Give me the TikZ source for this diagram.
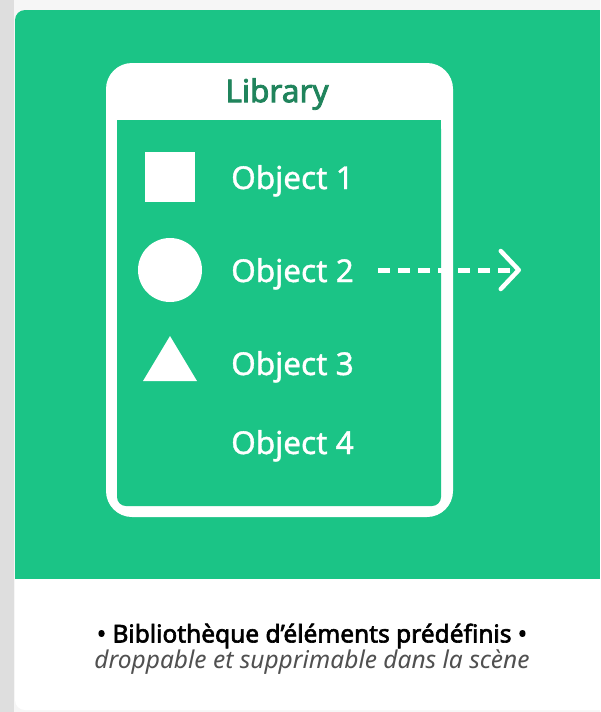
\documentclass[tikz,border=0pt]{standalone}
\usepackage{fontspec}
\setmainfont{Noto Sans}
\newfontfamily\medfont[FakeBold=1.2]{Noto Sans}
\newfontfamily\semifont[FakeBold=2.5]{Noto Sans}
\usetikzlibrary{arrows.meta}
\definecolor{libgreen}{RGB}{27,196,134}
\definecolor{darkgreen}{RGB}{32,132,92}
\definecolor{capgray}{RGB}{80,80,80}
\definecolor{edgegray}{RGB}{222,222,222}
\definecolor{topgray}{RGB}{246,246,246}

\begin{document}
\begin{tikzpicture}[x=1pt, y=-1pt,
    objlabel/.style={anchor=base west, inner sep=0pt, text=white,
      font=\medfont\fontsize{31.5}{31.5}\selectfont},
    icon/.style={fill=white, draw=none, inner sep=0pt},
    dragline/.style={white, line width=5, dash pattern=on 12 off 8,
      -{Straight Barb[length=18, width=38, line width=4.5, round]}}]
\useasboundingbox (0,0) rectangle (600,712);
% page and card
\fill[topgray] (0,0) rectangle (600,712);
\fill[edgegray] (0,0) rectangle (14,712);
\fill[white, rounded corners=10] (15,10) rectangle (620,710);
\begin{scope}
  \clip[rounded corners=10] (15,10) rectangle (620,710);
  \fill[libgreen] (15,10) rectangle (600,579);
\end{scope}
% library frame
\fill[white, rounded corners=26] (106,63) rectangle (453,517);
\fill[libgreen, rounded corners=9] (117,120) rectangle (441,506);
\fill[libgreen] (117,120) rectangle (441,140);
\node[text=darkgreen, font=\semifont\fontsize{31.5}{31.5}\selectfont] (title) at (277,94) {Library};
% icons
\node[icon, minimum size=50] (square) at (170,177) {};
\node[icon, circle, minimum size=64] (disc) at (170,270) {};
\fill[white] (143,381) -- (170,336) -- (197,381) -- cycle;
% objects
\node[objlabel] (obj1) at (231,189) {Object 1};
\node[objlabel] (obj2) at (231,282) {Object 2};
\node[objlabel] (obj3) at (231,375) {Object 3};
\node[objlabel] (obj4) at (231,454) {Object 4};
\coordinate (drop) at (521,270);
\draw[dragline] (378,270) -- (drop);
% caption
\node[font=\semifont\fontsize{24.5}{24.5}\selectfont] (capmain) at (312,636)
  {• Bibliothèque d’éléments prédéfinis •};
\node[font=\fontsize{24.5}{24.5}\selectfont\itshape, text=capgray] (capsub) at (312,662)
  {droppable et supprimable dans la scène};
\end{tikzpicture}
\end{document}
